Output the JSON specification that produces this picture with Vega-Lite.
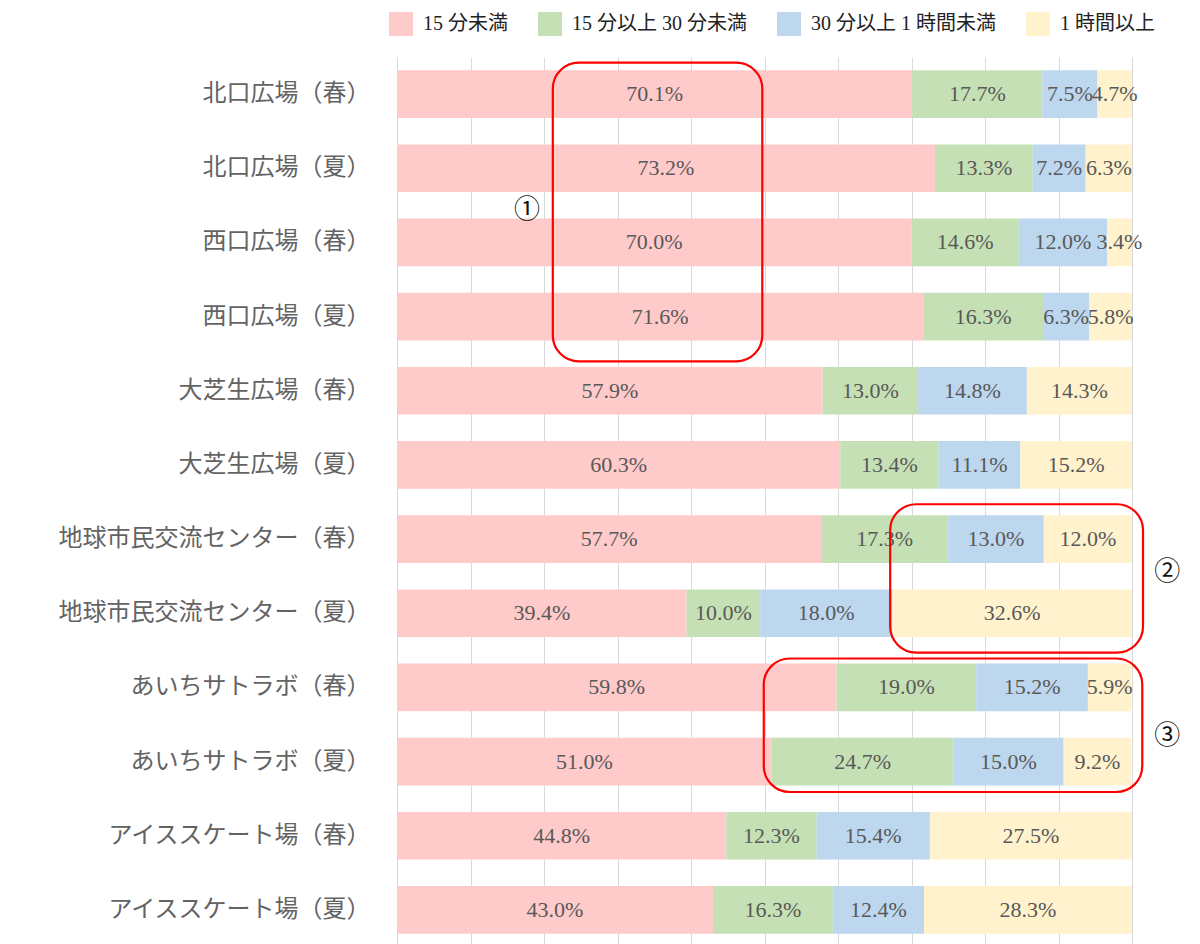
{
  "$schema": "https://vega.github.io/schema/vega-lite/v6.json",
  "width": 735,
  "height": 890,
  "autosize": {"type": "none"},
  "padding": {"left": 397, "top": 57, "right": 68, "bottom": 0},
  "background": "white",
  "config": {"view": {"stroke": null}},
  "datasets": {
    "bars": [
      {"place": "北口広場（春）", "k": 1, "cat": "15 分未満", "v": 0.701},
      {"place": "北口広場（春）", "k": 2, "cat": "15 分以上 30 分未満", "v": 0.177},
      {"place": "北口広場（春）", "k": 3, "cat": "30 分以上 1 時間未満", "v": 0.075},
      {"place": "北口広場（春）", "k": 4, "cat": "1 時間以上", "v": 0.047},
      {"place": "北口広場（夏）", "k": 1, "cat": "15 分未満", "v": 0.732},
      {"place": "北口広場（夏）", "k": 2, "cat": "15 分以上 30 分未満", "v": 0.133},
      {"place": "北口広場（夏）", "k": 3, "cat": "30 分以上 1 時間未満", "v": 0.072},
      {"place": "北口広場（夏）", "k": 4, "cat": "1 時間以上", "v": 0.063},
      {"place": "西口広場（春）", "k": 1, "cat": "15 分未満", "v": 0.700},
      {"place": "西口広場（春）", "k": 2, "cat": "15 分以上 30 分未満", "v": 0.146},
      {"place": "西口広場（春）", "k": 3, "cat": "30 分以上 1 時間未満", "v": 0.120},
      {"place": "西口広場（春）", "k": 4, "cat": "1 時間以上", "v": 0.034},
      {"place": "西口広場（夏）", "k": 1, "cat": "15 分未満", "v": 0.716},
      {"place": "西口広場（夏）", "k": 2, "cat": "15 分以上 30 分未満", "v": 0.163},
      {"place": "西口広場（夏）", "k": 3, "cat": "30 分以上 1 時間未満", "v": 0.063},
      {"place": "西口広場（夏）", "k": 4, "cat": "1 時間以上", "v": 0.058},
      {"place": "大芝生広場（春）", "k": 1, "cat": "15 分未満", "v": 0.579},
      {"place": "大芝生広場（春）", "k": 2, "cat": "15 分以上 30 分未満", "v": 0.130},
      {"place": "大芝生広場（春）", "k": 3, "cat": "30 分以上 1 時間未満", "v": 0.148},
      {"place": "大芝生広場（春）", "k": 4, "cat": "1 時間以上", "v": 0.143},
      {"place": "大芝生広場（夏）", "k": 1, "cat": "15 分未満", "v": 0.603},
      {"place": "大芝生広場（夏）", "k": 2, "cat": "15 分以上 30 分未満", "v": 0.134},
      {"place": "大芝生広場（夏）", "k": 3, "cat": "30 分以上 1 時間未満", "v": 0.111},
      {"place": "大芝生広場（夏）", "k": 4, "cat": "1 時間以上", "v": 0.152},
      {"place": "地球市民交流センター（春）", "k": 1, "cat": "15 分未満", "v": 0.577},
      {"place": "地球市民交流センター（春）", "k": 2, "cat": "15 分以上 30 分未満", "v": 0.173},
      {"place": "地球市民交流センター（春）", "k": 3, "cat": "30 分以上 1 時間未満", "v": 0.130},
      {"place": "地球市民交流センター（春）", "k": 4, "cat": "1 時間以上", "v": 0.120},
      {"place": "地球市民交流センター（夏）", "k": 1, "cat": "15 分未満", "v": 0.394},
      {"place": "地球市民交流センター（夏）", "k": 2, "cat": "15 分以上 30 分未満", "v": 0.100},
      {"place": "地球市民交流センター（夏）", "k": 3, "cat": "30 分以上 1 時間未満", "v": 0.180},
      {"place": "地球市民交流センター（夏）", "k": 4, "cat": "1 時間以上", "v": 0.326},
      {"place": "あいちサトラボ（春）", "k": 1, "cat": "15 分未満", "v": 0.598},
      {"place": "あいちサトラボ（春）", "k": 2, "cat": "15 分以上 30 分未満", "v": 0.190},
      {"place": "あいちサトラボ（春）", "k": 3, "cat": "30 分以上 1 時間未満", "v": 0.152},
      {"place": "あいちサトラボ（春）", "k": 4, "cat": "1 時間以上", "v": 0.059},
      {"place": "あいちサトラボ（夏）", "k": 1, "cat": "15 分未満", "v": 0.510},
      {"place": "あいちサトラボ（夏）", "k": 2, "cat": "15 分以上 30 分未満", "v": 0.247},
      {"place": "あいちサトラボ（夏）", "k": 3, "cat": "30 分以上 1 時間未満", "v": 0.150},
      {"place": "あいちサトラボ（夏）", "k": 4, "cat": "1 時間以上", "v": 0.092},
      {"place": "アイススケート場（春）", "k": 1, "cat": "15 分未満", "v": 0.448},
      {"place": "アイススケート場（春）", "k": 2, "cat": "15 分以上 30 分未満", "v": 0.123},
      {"place": "アイススケート場（春）", "k": 3, "cat": "30 分以上 1 時間未満", "v": 0.154},
      {"place": "アイススケート場（春）", "k": 4, "cat": "1 時間以上", "v": 0.275},
      {"place": "アイススケート場（夏）", "k": 1, "cat": "15 分未満", "v": 0.430},
      {"place": "アイススケート場（夏）", "k": 2, "cat": "15 分以上 30 分未満", "v": 0.163},
      {"place": "アイススケート場（夏）", "k": 3, "cat": "30 分以上 1 時間未満", "v": 0.124},
      {"place": "アイススケート場（夏）", "k": 4, "cat": "1 時間以上", "v": 0.283}
    ],
    "boxes": [
      {"bx0": 0.212, "bx1": 0.497, "by0": 0.075, "by1": 4.105},
      {"bx0": 0.671, "bx1": 1.015, "by0": 6.03, "by1": 8.03},
      {"bx0": 0.499, "bx1": 1.014, "by0": 8.11, "by1": 9.91}
    ],
    "notes": [
      {"nx": 0.177, "ny": 2.06, "label": "①"},
      {"nx": 1.048, "ny": 6.95, "label": "②"},
      {"nx": 1.048, "ny": 9.15, "label": "③"}
    ]
  },
  "layer": [
    {
      "data": {"name": "bars"},
      "transform": [
        {"stack": "v", "groupby": ["place"], "sort": [{"field": "k", "order": "ascending"}], "as": ["x0", "x1"]},
        {"calculate": "(datum.x0 + datum.x1) / 2", "as": "xm"}
      ],
      "encoding": {
        "y": {
          "field": "place",
          "type": "nominal",
          "sort": null,
          "scale": {
            "domain": ["北口広場（春）", "北口広場（夏）", "西口広場（春）", "西口広場（夏）", "大芝生広場（春）", "大芝生広場（夏）", "地球市民交流センター（春）", "地球市民交流センター（夏）", "あいちサトラボ（春）", "あいちサトラボ（夏）", "アイススケート場（春）", "アイススケート場（夏）"],
            "paddingInner": 0.357,
            "paddingOuter": 0.1785
          },
          "axis": {
            "title": null,
            "ticks": false,
            "domain": false,
            "labelFont": "Noto Sans CJK JP",
            "labelFontSize": 24,
            "labelColor": "#636363",
            "labelPadding": 27,
            "labelLimit": 400
          }
        }
      },
      "layer": [
        {
          "mark": {"type": "bar"},
          "encoding": {
            "x": {
              "field": "x0",
              "type": "quantitative",
              "scale": {"domain": [0, 1], "nice": false},
              "axis": {
                "title": null,
                "labels": false,
                "ticks": false,
                "domain": false,
                "values": [0, 0.1, 0.2, 0.3, 0.4, 0.5, 0.6, 0.7, 0.8, 0.9, 1],
                "grid": true,
                "gridColor": "#d9d9d9",
                "gridWidth": 1
              }
            },
            "x2": {"field": "x1"},
            "color": {
              "field": "cat",
              "type": "nominal",
              "scale": {
                "domain": ["15 分未満", "15 分以上 30 分未満", "30 分以上 1 時間未満", "1 時間以上"],
                "range": ["#ffcaca", "#c5e0b4", "#bdd7ee", "#fff2cc"]
              },
              "legend": {
                "title": null,
                "orient": "none",
                "direction": "horizontal",
                "legendX": -8,
                "legendY": -45,
                "symbolType": "square",
                "symbolSize": 576,
                "symbolStrokeWidth": 0,
                "symbolOpacity": 1,
                "labelFont": "Liberation Serif, Noto Sans CJK JP",
                "labelFontSize": 20,
                "labelColor": "#222222",
                "labelOffset": 10,
                "columnPadding": 30,
                "labelLimit": 400,
                "encode": {
                  "symbols": {
                    "update": {
                      "fill": {"signal": "datum.value === '15 分以上 30 分未満' ? '#a9d18e' : datum.value === '15 分未満' ? '#ffcccc' : datum.value === '30 分以上 1 時間未満' ? '#bdd7ee' : '#fff2cc'"}
                    }
                  }
                }
              }
            }
          }
        },
        {
          "mark": {
            "type": "text",
            "font": "Liberation Serif",
            "fontSize": 22,
            "color": "#595959",
            "align": "center",
            "baseline": "middle"
          },
          "encoding": {
            "x": {"field": "xm", "type": "quantitative", "scale": {"domain": [0, 1], "nice": false}},
            "text": {"field": "v", "type": "quantitative", "format": ".1%"}
          }
        }
      ]
    },
    {
      "data": {"name": "boxes"},
      "mark": {
        "type": "rect",
        "fillOpacity": 0,
        "stroke": "#ff0000",
        "strokeWidth": 2.2,
        "cornerRadius": 26
      },
      "encoding": {
        "x": {"field": "bx0", "type": "quantitative", "scale": {"domain": [0, 1], "nice": false}},
        "x2": {"field": "bx1"},
        "y": {"field": "by0", "type": "quantitative", "scale": {"domain": [0, 12], "reverse": true, "nice": false}, "axis": null},
        "y2": {"field": "by1"}
      }
    },
    {
      "data": {"name": "notes"},
      "mark": {
        "type": "text",
        "font": "Noto Sans CJK JP",
        "fontSize": 26,
        "color": "#111111",
        "align": "center",
        "baseline": "middle"
      },
      "encoding": {
        "x": {"field": "nx", "type": "quantitative", "scale": {"domain": [0, 1], "nice": false}},
        "y": {"field": "ny", "type": "quantitative", "scale": {"domain": [0, 12], "reverse": true, "nice": false}, "axis": null},
        "text": {"field": "label", "type": "nominal"}
      }
    }
  ],
  "resolve": {"scale": {"y": "independent"}}
}
